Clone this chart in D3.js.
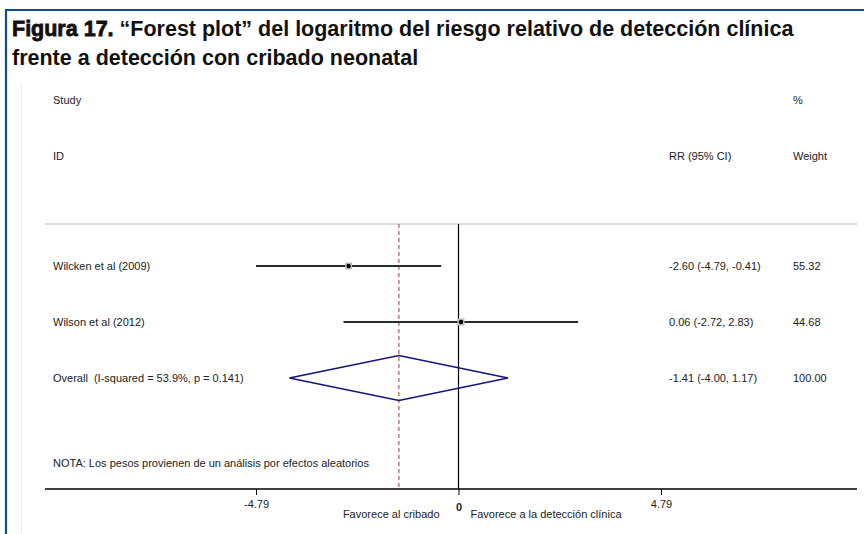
<!DOCTYPE html>
<html>
<head>
<meta charset="utf-8">
<script src="https://cdn.jsdelivr.net/npm/d3@7"></script>
<style>
  html, body { margin: 0; padding: 0; background: #fff; }
  svg { display: block; font-family: "Liberation Sans", Arial, Helvetica, sans-serif; }
  svg text { white-space: pre; }
</style>
</head>
<body>
<svg id="chart" width="864" height="534"></svg>
<script>
// Study-level log relative risks with 95% CI and random-effects weights
const studies = ["Wilcken et al (2009)", "Wilson et al (2012)"];
const estimates = [-2.60, 0.06];
const lowerCI = [-4.79, -2.72];
const upperCI = [-0.41, 2.83];
const weights = [55.32, 44.68];

// Pooled estimate
const overallLabel = "Overall  (I-squared = 53.9%, p = 0.141)";
const overall = { est: -1.41, lo: -4.00, hi: 1.17, weight: 100.00 };

// Axis ticks
const tickValues = [-4.79, 0, 4.79];
const tickLabels = ["-4.79", "0", "4.79"];

const titleLines = [
  ["Figura 17.", " “Forest plot” del logaritmo del riesgo relativo de detección clínica"],
  ["", "frente a detección con cribado neonatal"]
];

const svg = d3.select("#chart");

// Frame
svg.append("line").attr("x1", 5).attr("x2", 864).attr("y1", 10).attr("y2", 10)
  .attr("stroke", "#0b5088").attr("stroke-width", 2.2);
svg.append("line").attr("x1", 6).attr("x2", 6).attr("y1", 9).attr("y2", 534)
  .attr("stroke", "#0b5088").attr("stroke-width", 2.2);
svg.append("line").attr("x1", 21.5).attr("x2", 21.5).attr("y1", 84).attr("y2", 534)
  .attr("stroke", "#e6eef4").attr("stroke-width", 1);

// Title
titleLines.forEach((parts, i) => {
  const t = svg.append("text").attr("x", 12).attr("y", 36 + i * 29)
    .attr("font-size", 21.5).attr("font-weight", "bold").attr("fill", "#111");
  if (parts[0]) {
    t.append("tspan").text(parts[0]).attr("stroke", "#111").attr("stroke-width", 0.8);
  }
  t.append("tspan").text(parts[1]);
});

// Scales
const x = d3.scaleLinear().domain([-4.79, 4.79]).range([256, 661]);
const rows = studies.concat([overallLabel]);
const y = d3.scalePoint().domain(rows).range([266, 378]);

const fs = 11;
const textColor = "#222";
const fmt = d3.formatLocale({ decimal: ".", thousands: ",", grouping: [3], currency: ["", ""], minus: "-" }).format(".2f");

// Column headers
const headers = [
  { t: "Study", x: 53, y: 104 },
  { t: "%", x: 793, y: 104 },
  { t: "ID", x: 53, y: 160 },
  { t: "RR (95% CI)", x: 669, y: 160 },
  { t: "Weight", x: 793, y: 160 }
];
svg.selectAll("text.hdr").data(headers).join("text").attr("class", "hdr")
  .attr("x", d => d.x).attr("y", d => d.y).attr("font-size", fs).attr("fill", textColor)
  .text(d => d.t);

svg.append("line").attr("x1", 45).attr("x2", 857).attr("y1", 224).attr("y2", 224)
  .attr("stroke", "#dcdcdc").attr("stroke-width", 2);

const axisY = 489;

// Null line and pooled-estimate line
svg.append("line").attr("x1", x(0)).attr("x2", x(0)).attr("y1", 224).attr("y2", axisY)
  .attr("stroke", "#000").attr("stroke-width", 1.2);
svg.append("line").attr("x1", x(overall.est)).attr("x2", x(overall.est)).attr("y1", 224).attr("y2", axisY)
  .attr("stroke", "#b04a4a").attr("stroke-width", 1.1).attr("stroke-dasharray", "4,3");

// Study rows
studies.forEach((s, i) => {
  const yy = y(s);
  svg.append("line").attr("x1", x(lowerCI[i])).attr("x2", x(upperCI[i]))
    .attr("y1", yy).attr("y2", yy).attr("stroke", "#2a2a2a").attr("stroke-width", 1.8);
  svg.append("rect").attr("x", x(estimates[i]) - 3.5).attr("y", yy - 3.5)
    .attr("width", 7).attr("height", 7).attr("fill", "#bdbdbd");
  svg.append("circle").attr("cx", x(estimates[i])).attr("cy", yy).attr("r", 2.2).attr("fill", "#000");
  svg.append("text").attr("x", 53).attr("y", yy + 4).attr("font-size", fs).attr("fill", textColor).text(s);
  svg.append("text").attr("x", 669).attr("y", yy + 4).attr("font-size", fs).attr("fill", textColor)
    .text(`${fmt(estimates[i])} (${fmt(lowerCI[i])}, ${fmt(upperCI[i])})`);
  svg.append("text").attr("x", 793).attr("y", yy + 4).attr("font-size", fs).attr("fill", textColor)
    .text(fmt(weights[i]));
});

// Pooled diamond
const oy = y(overallLabel);
const dh = 22.5;
svg.append("path")
  .attr("d", d3.line()([[x(overall.lo), oy], [x(overall.est), oy - dh], [x(overall.hi), oy], [x(overall.est), oy + dh]]) + "Z")
  .attr("fill", "none").attr("stroke", "#14147a").attr("stroke-width", 1.6);
svg.append("text").attr("x", 53).attr("y", oy + 4).attr("font-size", fs).attr("fill", textColor).text(overallLabel);
svg.append("text").attr("x", 669).attr("y", oy + 4).attr("font-size", fs).attr("fill", textColor)
  .text(`${fmt(overall.est)} (${fmt(overall.lo)}, ${fmt(overall.hi)})`);
svg.append("text").attr("x", 793).attr("y", oy + 4).attr("font-size", fs).attr("fill", textColor)
  .text(fmt(overall.weight));

// Footnote
svg.append("text").attr("x", 53).attr("y", 467).attr("font-size", fs).attr("fill", textColor)
  .text("NOTA: Los pesos provienen de un análisis por efectos aleatorios");

// X axis
svg.append("line").attr("x1", 45).attr("x2", 857).attr("y1", axisY).attr("y2", axisY)
  .attr("stroke", "#000").attr("stroke-width", 1.3);
const axis = d3.axisBottom(x).tickValues(tickValues).tickSize(6)
  .tickFormat((d, i) => tickLabels[i]);
const gAxis = svg.append("g").attr("transform", `translate(0,${axisY})`).call(axis);
gAxis.select(".domain").remove();
gAxis.selectAll(".tick line").attr("stroke", "#000");
gAxis.selectAll(".tick text").attr("font-family", "Liberation Sans, Arial, sans-serif")
  .attr("font-size", fs).attr("fill", textColor).attr("dy", "0.95em")
  .filter((d) => d === 0).attr("font-weight", "bold").attr("dy", "1.2em");

// Direction labels
svg.append("text").attr("x", x(0) - 19).attr("y", 518).attr("text-anchor", "end")
  .attr("font-size", fs).attr("fill", textColor).text("Favorece al cribado");
svg.append("text").attr("x", x(0) + 12).attr("y", 518)
  .attr("font-size", fs).attr("fill", textColor).text("Favorece a la detección clínica");
</script>
</body>
</html>
